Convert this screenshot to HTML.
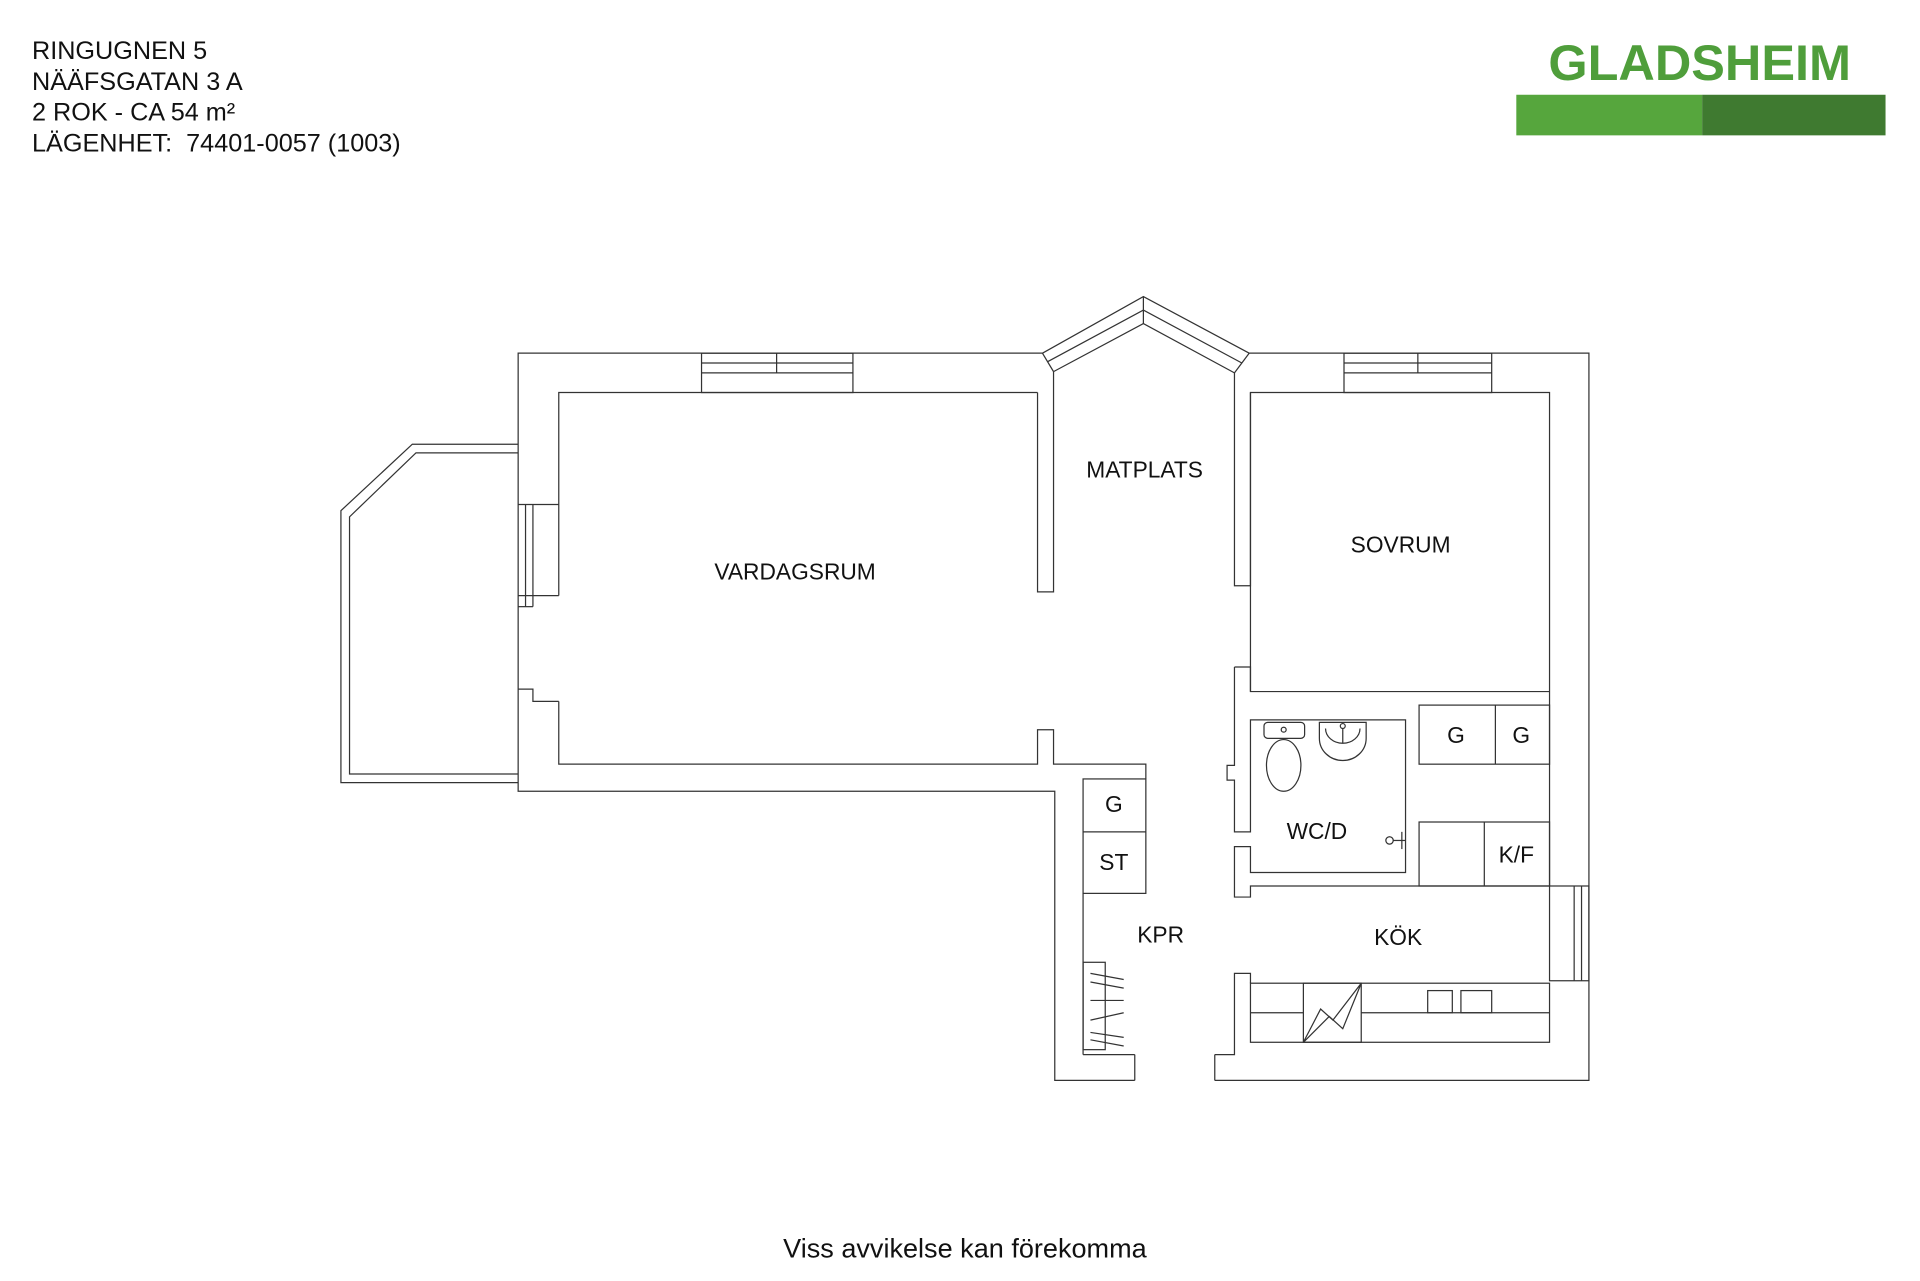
<!DOCTYPE html>
<html><head><meta charset="utf-8"><style>
html,body{margin:0;padding:0;background:#fff;}
svg{display:block}
text{font-family:"Liberation Sans",Arial,sans-serif;fill:#111}
</style></head><body>
<svg width="1920" height="1281" viewBox="0 0 1560 1041" preserveAspectRatio="none" xmlns="http://www.w3.org/2000/svg">
<rect width="1560" height="1041" fill="#fff"/>
<g font-size="20.5">
<text x="26" y="48">RINGUGNEN 5</text>
<text x="26" y="73">NÄÄFSGATAN 3 A</text>
<text x="26" y="98">2 ROK - CA 54 m²</text>
<text x="26" y="123">LÄGENHET:&#160; 74401-0057 (1003)</text>
</g>
<text x="1381" y="65" font-size="41" font-weight="bold" text-anchor="middle" style="fill:#4f9e3b">GLADSHEIM</text>
<rect x="1232" y="77" width="151" height="33" fill="#56a63d"/>
<rect x="1383" y="77" width="149" height="33" fill="#3f7a30"/>
<text x="784" y="1022" font-size="22" text-anchor="middle">Viss avvikelse kan förekomma</text>

<g fill="none" stroke="#333" stroke-width="1">
<polyline points="421,361 335,361 277,415 277,636 421,636"/>
<polyline points="421,368 338,368 284,420 284,629 421,629"/>
<polyline points="847,287 421,287 421,643 857,643 857,878 922,878"/>
<polyline points="987,878 1291,878 1291,287 1015,287"/>
<line x1="922" y1="878" x2="922" y2="857"/><line x1="987" y1="878" x2="987" y2="857"/>
<polyline points="847,287 929,241 1015,287"/>
<polyline points="856,302 929,263 1003,303"/>
<polyline points="851,294 929,252 1009,295"/>
<line x1="929" y1="241" x2="929" y2="263"/>
<line x1="847" y1="287" x2="856" y2="302"/><line x1="1015" y1="287" x2="1003" y2="303"/>
<polyline points="843,319 454,319 454,410"/>
<polyline points="843,319 843,481 856,481 856,302"/>
<polyline points="421,560 433,560 433,570 454,570"/>
<polyline points="454,570 454,621 843,621 843,593 856,593 856,621 931,621 931,633"/>
<rect x="570" y="287" width="123" height="32"/><line x1="570" y1="295" x2="693" y2="295"/><line x1="570" y1="303" x2="693" y2="303"/><line x1="631" y1="287" x2="631" y2="303"/>
<rect x="1092" y="287" width="120" height="32"/><line x1="1092" y1="295" x2="1212" y2="295"/><line x1="1092" y1="303" x2="1212" y2="303"/><line x1="1152" y1="287" x2="1152" y2="303"/>
<polyline points="454,410 421,410"/><line x1="427" y1="410" x2="427" y2="493"/><line x1="433" y1="410" x2="433" y2="493"/><line x1="454" y1="410" x2="454" y2="484"/><line x1="421" y1="484" x2="454" y2="484"/><line x1="421" y1="493" x2="433" y2="493"/>
<rect x="1259" y="720" width="32" height="77"/><line x1="1279" y1="720" x2="1279" y2="797"/><line x1="1285" y1="720" x2="1285" y2="797"/>
<polyline points="1003,303 1003,476 1016,476 1016,319 1259,319 1259,720"/>
<polyline points="1016,319 1016,562 1259,562"/>
<rect x="1153" y="573" width="106" height="48"/><line x1="1215" y1="573" x2="1215" y2="621"/>
<polyline points="1003,542 1016,542 1016,562"/>
<polyline points="1003,542 1003,622 997,622 997,634 1003,634 1003,676 1016,676 1016,585 1142,585 1142,709 1016,709 1016,688 1003,688 1003,729 1016,729 1016,720 1259,720"/>
<rect x="1153" y="668" width="106" height="52"/><line x1="1206" y1="668" x2="1206" y2="720"/>
<rect x="880" y="633" width="51" height="93"/><line x1="880" y1="676" x2="931" y2="676"/>
<line x1="880" y1="726" x2="880" y2="857"/><line x1="880" y1="857" x2="922" y2="857"/>
<polyline points="987,857 1003,857 1003,791 1016,791 1016,799"/>
<rect x="880" y="782" width="18" height="71"/>
<line x1="886" y1="791" x2="913" y2="796"/><line x1="886" y1="798" x2="913" y2="803"/><line x1="886" y1="813" x2="913" y2="813"/><line x1="886" y1="829" x2="913" y2="823"/><line x1="886" y1="839" x2="913" y2="843"/><line x1="886" y1="845" x2="913" y2="850"/>
<rect x="1016" y="799" width="243" height="48"/><line x1="1016" y1="823" x2="1059" y2="823"/><line x1="1106" y1="823" x2="1259" y2="823"/>
<rect x="1059" y="799" width="47" height="48"/>
<polyline points="1059,847 1073,820 1083,829 1106,799 1091,836 1080,826 1059,847"/>
<rect x="1160" y="805" width="20" height="18"/><rect x="1187" y="805" width="25" height="18"/>
<rect x="1027" y="587" width="33" height="13" rx="3"/><circle cx="1043" cy="593" r="2"/>
<ellipse cx="1043" cy="622" rx="14" ry="21"/>
<path d="M1072,587 L1110,587 L1110,600 A19,18 0 0 1 1072,600 Z"/><path d="M1077,592 A14,12 0 0 0 1105,592"/>
<circle cx="1091" cy="590" r="2"/><line x1="1091" y1="592" x2="1091" y2="604"/>
<circle cx="1129" cy="683" r="3"/><line x1="1132" y1="683" x2="1142" y2="683"/><line x1="1139" y1="676" x2="1139" y2="690"/>
</g>
<g font-size="18.5" text-anchor="middle">
<text x="646" y="471">VARDAGSRUM</text>
<text x="930" y="388">MATPLATS</text>
<text x="1138" y="449">SOVRUM</text>
<text x="1183" y="604">G</text><text x="1236" y="604">G</text>
<text x="905" y="660">G</text><text x="905" y="707">ST</text>
<text x="1070" y="682">WC/D</text>
<text x="1232" y="701">K/F</text>
<text x="943" y="766">KPR</text>
<text x="1136" y="768">KÖK</text>
</g>
</svg>
</body></html>
